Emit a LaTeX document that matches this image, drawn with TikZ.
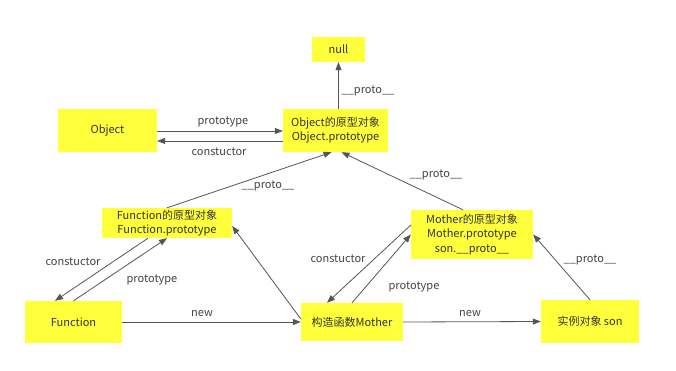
\documentclass[tikz,border=0pt]{standalone}
\usepackage{fontspec}
\setmainfont{Noto Sans CJK SC}
\usetikzlibrary{arrows.meta}
\definecolor{boxy}{HTML}{FFFF3C}
\definecolor{ln}{HTML}{555555}
\definecolor{tx}{HTML}{333333}
\definecolor{lb}{HTML}{444444}
\begin{document}
\begin{tikzpicture}[x=1pt,y=-1pt,
  box/.style={fill=boxy,draw=none,text=tx,font=\fontsize{11}{14.3}\selectfont,align=center,inner sep=0pt},
  arr/.style={draw=ln,line width=0.8pt,-{Triangle[length=8pt,width=6pt]}},
  lab/.style={text=lb,font=\fontsize{11}{13}\selectfont,inner sep=0pt}]
\useasboundingbox[fill=white] (0,0) rectangle (676,371);
\node[box,minimum width=53pt,minimum height=25pt] (null) at (338.5,49.5) {null};
\node[box,minimum width=105pt,minimum height=43pt] (objp) at (335.5,130.5) {Object的原型对象\\Object.prototype};
\node[box,minimum width=99pt,minimum height=43pt] (obj) at (107.5,130.5) {Object};
\node[box,minimum width=130pt,minimum height=30pt] (funp) at (167,223) {Function的原型对象\\Function.prototype};
\node[box,minimum width=97pt,minimum height=42pt] (fun) at (73.5,322) {Function};
\node[box,minimum width=102pt,minimum height=38pt] (mot) at (352,322) {构造函数Mother};
\node[box,minimum width=122pt,minimum height=49pt] (motp) at (472,234.5) {Mother的原型对象\\Mother.prototype\\son.\_\_proto\_\_};
\node[box,minimum width=98pt,minimum height=43pt] (son) at (590,321.5) {实例对象 son};

\draw[arr] (objp.north -| null.south) -- (null.south);
\draw[arr] ([yshift=-0.5pt]obj.east) -- ([yshift=-0.5pt]objp.west);
\draw[arr] ([yshift=-10.5pt]objp.west) -- ([yshift=-10.5pt]obj.east);
\draw[arr] (funp.north) -- ([xshift=-4pt]objp.south);
\draw[arr] ([xshift=-9pt]motp.north) -- ([xshift=6pt]objp.south);
\draw[arr] (fun.north) -- (funp.south);
\draw[arr] ([xshift=-19pt]funp.south) -- ([xshift=-18.5pt]fun.north);
\draw[arr] (fun.east) -- (mot.west);
\draw[arr] ([yshift=3pt]mot.west) -- ([yshift=-3pt]funp.east);
\draw[arr] (mot.north) -- (motp.west);
\draw[arr] ([yshift=9.5pt]motp.west) -- ([xshift=-25pt]mot.north);
\draw[arr] (mot.east) -- (son.west);
\draw[arr] (son.north) -- (motp.east);

\node[lab] (l1) at (368,91) {\_\_proto\_\_};
\node[lab] (l2) at (223,122) {prototype};
\node[lab] (l3) at (219,152) {constuctor};
\node[lab] (l4) at (268,186) {\_\_proto\_\_};
\node[lab] (l5) at (436,175) {\_\_proto\_\_};
\node[lab] (l6) at (73,262) {constuctor};
\node[lab] (l7) at (152,280) {prototype};
\node[lab] (l8) at (202,314) {new};
\node[lab] (l9) at (338,259) {constuctor};
\node[lab] (l10) at (414,287) {prototype};
\node[lab] (l11) at (470,314) {new};
\node[lab] (l12) at (590,260) {\_\_proto\_\_};
\end{tikzpicture}
\end{document}
